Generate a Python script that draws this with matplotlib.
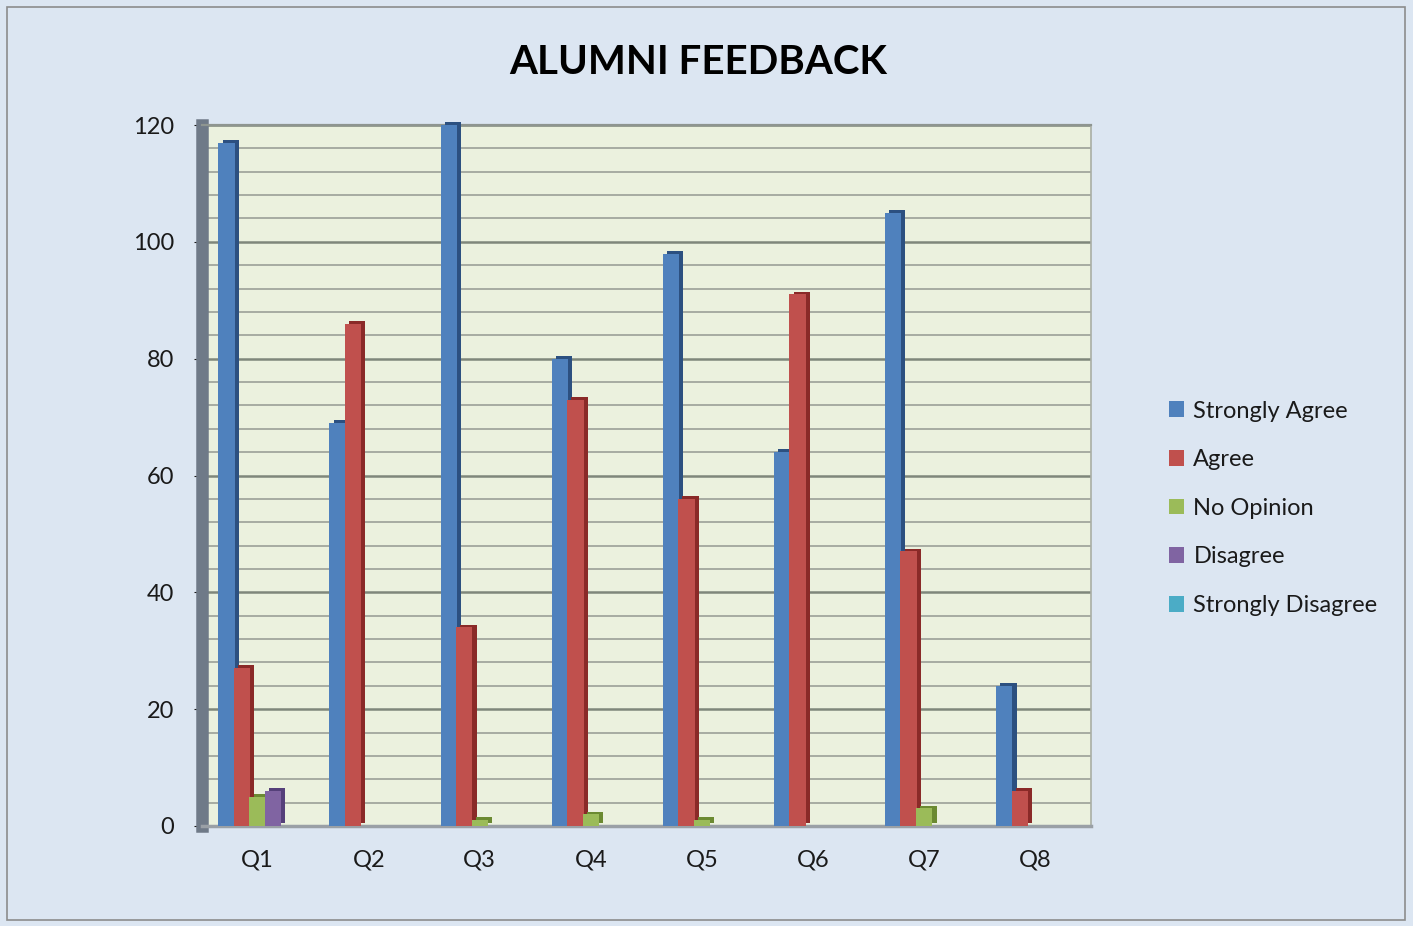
import matplotlib.pyplot as plt
import matplotlib.patheffects as pe
from matplotlib.patches import Rectangle, Patch
from matplotlib.ticker import MultipleLocator
import numpy as np

perguntas = ['Q1', 'Q2', 'Q3', 'Q4', 'Q5', 'Q6', 'Q7', 'Q8']
series = ['Strongly Agree', 'Agree', 'No Opinion', 'Disagree', 'Strongly Disagree']
strongly_agree = [117, 69, 120, 80, 98, 64, 105, 24]
agree = [27, 86, 34, 73, 56, 91, 47, 6]
no_opinion = [5, 0, 1, 2, 1, 0, 3, 0]
disagree = [6, 0, 0, 0, 0, 0, 0, 0]
strongly_disagree = [0, 0, 0, 0, 0, 0, 0, 0]

valores = [strongly_agree, agree, no_opinion, disagree, strongly_disagree]
cores = ['#4f81bd', '#c0504d', '#9bbb59', '#8064a2', '#4bacc6']
sombras = ['#2c5080', '#8a2a28', '#6b8a32', '#55407a', '#2b7c94']

plt.rcParams['font.family'] = ['Lato', 'DejaVu Sans']

fig = plt.figure(figsize=(14.13, 9.26), dpi=100)
fig.patch.set_facecolor('#dce6f2')
fig.patches.append(Rectangle((0.005, 0.007), 0.989, 0.985, transform=fig.transFigure,
                             fill=False, edgecolor='#8c8c8c', linewidth=1.2))

ax = fig.add_axes([0.143, 0.108, 0.629, 0.757])
ax.set_facecolor('#ebf1de')

x = np.arange(len(perguntas))
largura = 0.14
for i, (nome, vals) in enumerate(zip(series, valores)):
    pos = x + (i - 2) * largura
    barras = ax.bar(pos, vals, largura * 1.05, color=cores[i], zorder=3, clip_on=False)
    for b in barras:
        if b.get_height() > 0:
            b.set_path_effects([pe.SimplePatchShadow(offset=(3, 2), shadow_rgbFace=sombras[i], alpha=1),
                                pe.Normal()])

# Formata o gráfico
ax.set_xlim(-0.5, 7.5)
ax.set_ylim(0, 120)
ax.yaxis.set_major_locator(MultipleLocator(20))
ax.yaxis.set_minor_locator(MultipleLocator(4))
ax.grid(axis='y', which='major', color='#7f877b', linewidth=1.8, zorder=1)
ax.grid(axis='y', which='minor', color='#a7aca2', linewidth=1.4, zorder=1)
ax.set_xticks(x)
ax.set_xticklabels(perguntas)
ax.tick_params(axis='x', length=0, pad=17, labelsize=17, colors='#1a1a1a')
ax.tick_params(axis='y', which='major', length=6, pad=14, labelsize=17, colors='#1a1a1a')
ax.tick_params(axis='y', which='minor', length=0)

ax.spines['left'].set_color('#6f7a88')
ax.spines['left'].set_linewidth(9)
ax.spines['bottom'].set_color('#9aa0a6')
ax.spines['bottom'].set_linewidth(2.5)
ax.spines['top'].set_color('#8e9590')
ax.spines['top'].set_linewidth(1.6)
ax.spines['right'].set_color('#a9aea4')
ax.spines['right'].set_linewidth(1.2)

fig.text(0.494, 0.933, 'ALUMNI FEEDBACK', ha='center', va='center',
         fontsize=29, fontweight='bold', color='#000000')

handles = [Patch(facecolor=c) for c in cores]
fig.legend(handles, series, loc='center left', bbox_to_anchor=(0.812, 0.451), frameon=False,
           fontsize=17, handlelength=0.65, handleheight=0.65, handletextpad=0.4,
           labelspacing=1.17, labelcolor='#1a1a1a')

fig.savefig('out.png', dpi=100, facecolor=fig.get_facecolor())
